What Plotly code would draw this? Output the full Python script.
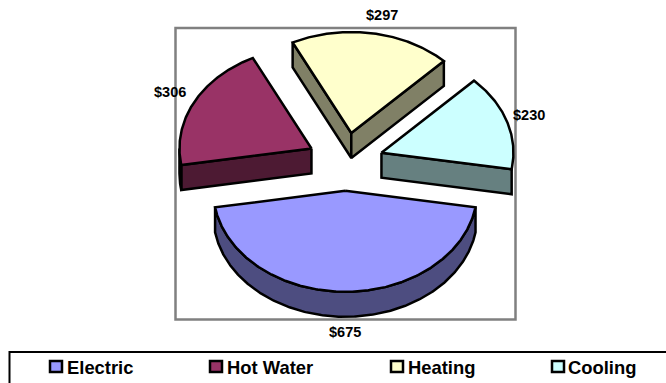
import math
import plotly.graph_objects as go

categories = ["Electric", "Hot Water", "Heating", "Cooling"]
costs = [675, 306, 297, 230]
cost_labels = ["$675", "$306", "$297", "$230"]
top_colors = ["#9999FF", "#993366", "#FFFFCC", "#CCFFFF"]
side_colors = ["#4D4D80", "#4D1A33", "#808066", "#668080"]

# Pie geometry on a canvas-sized cartesian axis pair
WIDTH, HEIGHT = 666, 383
CX, CY = 345.3, 161.7
RX, RY = 132, 101
DEPTH = 25
EXPLODE = 0.288
EDGE = dict(color="black", width=2.5)
FONT = "Liberation Sans"

# Data label offset from the outer middle point of each slice
label_nudge = [(0, 40.5), (-24, -10.5), (10, -18.5), (22.5, -6.5)]
legend_swatch_x = [50, 210, 391, 552]
legend_text_x = [65, 225, 406, 566]


def rim(cx, cy, deg):
    t = math.radians(deg)
    return cx + RX * math.sin(t), cy - RY * math.cos(t)


def arc(cx, cy, a, b, dy=0.0):
    n = max(2, int(abs(b - a) * 2))
    pts = [rim(cx, cy + dy, a + (b - a) * i / n) for i in range(n + 1)]
    return [p[0] for p in pts], [p[1] for p in pts]


total = sum(costs)
spans = [v / total * 360 for v in costs]
# First slice is centred on straight down; the others follow clockwise
starts = [180 - spans[0] / 2]
for s in spans[:-1]:
    starts.append(starts[-1] + s)

fig = go.Figure()


def polygon(xs, ys, color):
    fig.add_trace(go.Scatter(x=xs, y=ys, mode="lines", fill="toself", fillcolor=color,
                             line=EDGE, hoverinfo="skip", showlegend=False))


annotations = []
# Painter's order: rear slices first, the large front slice last
for i in [2, 1, 3, 0]:
    a, b = starts[i], starts[i] + spans[i]
    mid = math.radians((a + b) / 2)
    cx = CX + EXPLODE * RX * math.sin(mid)
    cy = CY - EXPLODE * RY * math.cos(mid)

    # Cut faces that turn toward the viewer
    for deg, visible in ((a, math.sin(math.radians(a)) < 0), (b, math.sin(math.radians(b)) > 0)):
        if visible:
            px, py = rim(cx, cy, deg)
            polygon([cx, px, px, cx, cx], [cy, py, py + DEPTH, cy + DEPTH, cy], side_colors[i])

    # Outer wall, limited to the front half of the rim
    lo, hi = max(a, 90), min(b, 270)
    if a > 180:
        lo, hi = a, 270
    if lo < hi:
        tx, ty = arc(cx, cy, lo, hi)
        bx, by = arc(cx, cy, hi, lo, DEPTH)
        polygon(tx + bx + tx[:1], ty + by + ty[:1], side_colors[i])

    # Top face
    tx, ty = arc(cx, cy, a, b)
    polygon([cx] + tx + [cx], [cy] + ty + [cy], top_colors[i])

    ex, ey = rim(cx, cy, (a + b) / 2)
    dx, dy = label_nudge[i]
    annotations.append(dict(x=ex + dx, y=ey + dy, text=cost_labels[i], showarrow=False,
                            xref="x", yref="y", xanchor="center", yanchor="middle",
                            font=dict(family=FONT, size=14.5, color="black", weight=700)))

shapes = [
    dict(type="rect", xref="x", yref="y", x0=175.5, x1=515.5, y0=28, y1=319.5,
         line=dict(color="#808080", width=2.5), layer="below"),
    dict(type="rect", xref="x", yref="y", x0=9.5, x1=700, y0=352, y1=420,
         line=dict(color="black", width=2), layer="below"),
]

for name, color, sx, tx in zip(categories, top_colors, legend_swatch_x, legend_text_x):
    shapes.append(dict(type="rect", xref="x", yref="y", x0=sx, x1=sx + 12, y0=361, y1=372,
                       fillcolor=color, line=dict(color="black", width=2.5)))
    annotations.append(dict(x=tx, y=367, text=name, showarrow=False, xref="x", yref="y",
                            xanchor="left", yanchor="middle",
                            font=dict(family=FONT, size=18.4, color="black", weight=700)))

fig.update_layout(
    width=WIDTH, height=HEIGHT, autosize=False,
    margin=dict(l=0, r=0, t=0, b=0),
    paper_bgcolor="white", plot_bgcolor="white",
    xaxis=dict(range=[0, WIDTH], visible=False, fixedrange=True),
    yaxis=dict(range=[HEIGHT, 0], visible=False, fixedrange=True),
    shapes=shapes, annotations=annotations, showlegend=False,
)

fig.write_html("out.html")
